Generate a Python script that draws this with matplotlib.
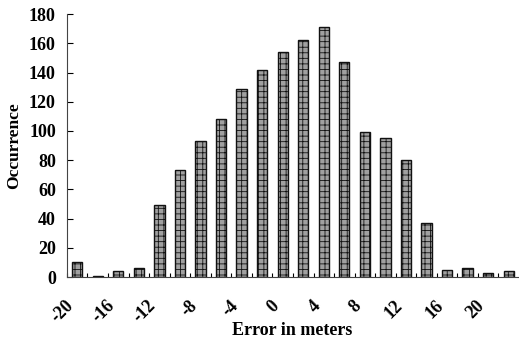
import matplotlib.pyplot as plt
import matplotlib.transforms as mtransforms
import numpy as np

# histogram of position error
error_m = [-20, -18, -16, -14, -12, -10, -8, -6, -4, -2, 0, 2, 4, 6, 8, 10, 12, 14, 16, 18, 20, 22]
occurrence = [10, 1, 4, 6, 49, 73, 93, 108, 129, 142, 154, 162, 171, 147, 99, 95, 80, 37, 5, 6, 3, 4]
tick_vals = [-20, -16, -12, -8, -4, 0, 4, 8, 12, 16, 20]

plt.rcParams['font.family'] = ['Liberation Serif', 'DejaVu Serif']
plt.rcParams['font.weight'] = 'bold'
plt.rcParams['hatch.color'] = '#444444'
plt.rcParams['hatch.linewidth'] = 0.6

fig = plt.figure(figsize=(5.19, 3.45), dpi=100)
ax = fig.add_axes([0.129, 0.197, 0.869, 0.762])

ax.bar(error_m, occurrence, width=1.0, color='#a0a0a0', edgecolor='#111111',
       linewidth=1.0, hatch='+++')

ax.set_xlim(-21, 22.9)
ax.set_ylim(0, 180)
ax.set_yticks(range(0, 181, 20))
ax.set_xticks(tick_vals)
ax.set_xticks(np.arange(-21, 23, 2), minor=True)
ax.tick_params(axis='x', which='major', length=0, pad=19)
ax.tick_params(axis='x', which='minor', direction='in', length=3, width=0.8)
ax.tick_params(axis='y', direction='in', length=4, width=0.8, labelsize=13, pad=8)
ax.set_xticklabels([str(v) for v in tick_vals], rotation=45, ha='right', va='center',
                   rotation_mode='anchor', fontsize=13)

# nudge the rotated labels left so they sit under-left of their bar
shift = mtransforms.ScaledTranslation(-6 / 100, 0, fig.dpi_scale_trans)
for lbl in ax.get_xticklabels():
    lbl.set_transform(lbl.get_transform() + shift)

for s in ['top', 'right']:
    ax.spines[s].set_visible(False)
for s in ['left', 'bottom']:
    ax.spines[s].set_linewidth(0.8)
    ax.spines[s].set_color('#444444')

ax.set_ylabel('Occurrence', fontsize=12.5, fontweight='bold', va='center')
ax.yaxis.set_label_coords(-0.118, 0.5)
ax.set_xlabel('Error in meters', fontsize=13, fontweight='bold', va='center')
ax.xaxis.set_label_coords(0.5, -0.205)

fig.savefig('out.png', dpi=100)
